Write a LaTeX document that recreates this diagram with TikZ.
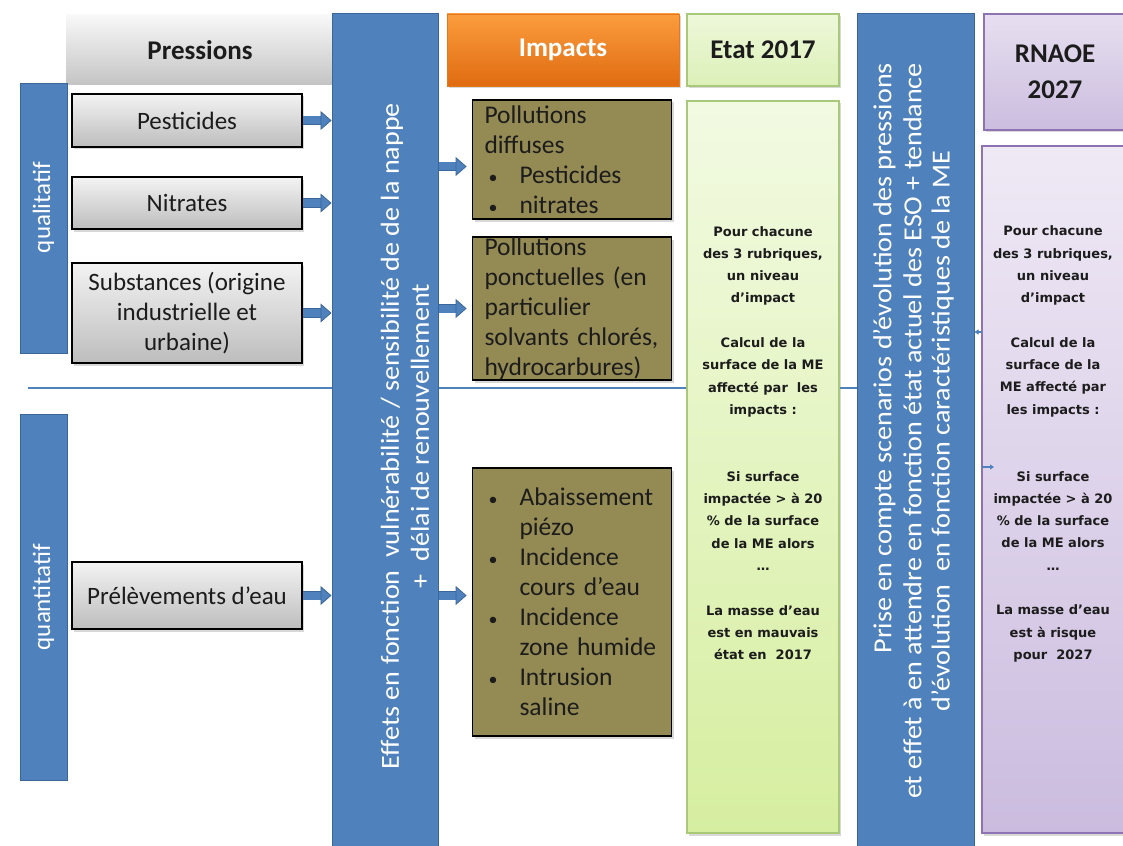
\documentclass[tikz,border=0pt]{standalone}
\usepackage{fontspec}
\setmainfont{Carlito}
\newfontfamily\notefont{DejaVu Sans}
\newfontfamily\bandfont[FakeStretch=1.08]{Carlito}
\usetikzlibrary{arrows.meta,shadows}

\definecolor{bandblue}{HTML}{4F81BD}
\definecolor{bandedge}{HTML}{3B6698}
\definecolor{impfill}{HTML}{948A54}
\definecolor{greytop}{HTML}{F3F3F3}
\definecolor{greybot}{HTML}{BDBDBD}
\definecolor{headtop}{HTML}{F8F8F8}
\definecolor{headbot}{HTML}{C4C4C4}
\definecolor{orangetop}{HTML}{FB9D3E}
\definecolor{orangebot}{HTML}{E06B10}
\definecolor{orangeedge}{HTML}{E3791F}
\definecolor{greentop}{HTML}{F2FAE2}
\definecolor{greenbot}{HTML}{D6EEA0}
\definecolor{greenhtop}{HTML}{EEF8DA}
\definecolor{greenhbot}{HTML}{DCF0B8}
\definecolor{greenedge}{HTML}{A8C87A}
\definecolor{purpletop}{HTML}{EFE9F5}
\definecolor{purplebot}{HTML}{CBBCDF}
\definecolor{purplehtop}{HTML}{E7DFF0}
\definecolor{purplehbot}{HTML}{CBBDDF}
\definecolor{purpleedge}{HTML}{8E73B2}
\definecolor{inkdark}{HTML}{1C1C1C}

% bullet items inside the impact boxes
\newcommand\bitem[1]{\makebox[35pt][l]{\hspace{4pt}{\fontsize{18}{18}\selectfont\textbullet}}#1}
\newcommand\bcont[1]{\hspace*{35pt}#1}

\tikzset{
  soft shadow/.style={drop shadow={opacity=0.3, shadow xshift=2pt, shadow yshift=-2.5pt}},
  band/.style={draw=bandedge, line width=1pt, fill=bandblue, inner sep=0pt},
  bandtext/.style={text=white, font=\bandfont\fontsize{26}{30}\selectfont, align=center, inner sep=0pt},
  headgrey/.style={top color=headtop, bottom color=headbot, text=inkdark,
    font=\fontsize{27}{32}\selectfont\bfseries},
  greybox/.style={draw=black, line width=1.6pt, top color=greytop, bottom color=greybot,
    soft shadow, inner sep=2pt, align=center, text=inkdark, font=\fontsize{25}{30}\selectfont},
  impact/.style={draw=black, line width=1.8pt, fill=impfill, soft shadow, text width=175pt,
    inner xsep=12pt, inner ysep=0pt, align=left, text=inkdark, font=\fontsize{25.5}{30}\selectfont},
  headorange/.style={draw=orangeedge, line width=0.8pt, top color=orangetop, bottom color=orangebot,
    soft shadow, text=white, font=\fontsize{27}{32}\selectfont\bfseries},
  headgreen/.style={draw=greenedge, line width=1.5pt, top color=greenhtop, bottom color=greenhbot,
    soft shadow, text=inkdark, font=\fontsize{27}{32}\selectfont\bfseries},
  bodygreen/.style={draw=greenedge, line width=1.5pt, top color=greentop, bottom color=greenbot, soft shadow},
  headpurple/.style={draw=purpleedge, line width=1.5pt, top color=purplehtop, bottom color=purplehbot,
    soft shadow, text=inkdark, align=center, font=\fontsize{27}{36}\selectfont\bfseries},
  bodypurple/.style={draw=purpleedge, line width=1.5pt, top color=purpletop, bottom color=purplebot, soft shadow},
  note/.style={align=center, text=inkdark, font=\notefont\bfseries\fontsize{13}{22.3}\selectfont},
  sepline/.style={draw=bandblue, line width=1.6pt},
  blockarr/.style={draw=bandblue, line width=8pt,
    -{Triangle[length=11pt,width=19pt,line width=0.8pt,color=bandedge,fill=bandblue]},
    preaction={draw=bandedge, line width=9.6pt, -, shorten >=10pt}},
  smallarr/.style={draw=bandblue, line width=1.3pt, -{Triangle[length=4pt,width=5pt]}}
}

\begin{document}
\begin{tikzpicture}[x=1pt,y=-1pt]
\useasboundingbox (0,0) rectangle (1123,845);
\clip (0,0) rectangle (1123,845);
\fill[white] (0,0) rectangle (1123,845);

% right-hand blue band (scenarios) and the row separator running behind the columns
\node[band, minimum width=117pt, minimum height=840pt] (col2) at (915.5,434) {};
\coordinate (sepstart) at (28,388);
\draw[sepline] (sepstart) -- (sepstart -| col2.west);

% pressures column
\node[headgrey, minimum width=268pt, minimum height=70pt] (hpress) at (200,50) {Pressions};
\node[band, rotate=90, minimum width=269pt, minimum height=47pt, text=white,
      font=\fontsize{25}{30}\selectfont] (qual) at (43.5,218.5) {\hspace*{22pt}qualitatif};
\node[band, rotate=90, minimum width=366pt, minimum height=47pt, text=white,
      font=\fontsize{25}{30}\selectfont] (quant) at (43.5,597) {quantitatif};

\node[greybox, minimum width=230pt, minimum height=53pt] (pest) at (187,120.5) {Pesticides};
\node[greybox, minimum width=230pt, minimum height=52pt] (nitr) at (187,203) {Nitrates};
\node[greybox, minimum width=230pt, minimum height=100pt] (subs) at (187,313)
  {Substances (origine\\industrielle et\\urbaine)};
\node[greybox, minimum width=230pt, minimum height=67pt] (prel) at (187,595.5) {Prélèvements d’eau};

% effects band
\node[band, minimum width=106pt, minimum height=840pt] (col1) at (385,434) {};
\node[bandtext, rotate=90] (col1txt) at (405,436)
  {Effets en fonction\ \ vulnérabilité / sensibilité de de la nappe\\+\ \ délai de renouvellement};

% impacts column
\node[headorange, minimum width=232pt, minimum height=72pt] (himp) at (563,50) {Impacts};
\node[impact, minimum width=199pt, minimum height=119pt] (imp1) at (572,159.5)
  {Pollutions\\diffuses\\\bitem{Pesticides}\\\bitem{nitrates}};
\node[impact, minimum width=199pt, minimum height=143pt] (imp2) at (572,308.5)
  {Pollutions\\ponctuelles~(en\\particulier\\solvants~chlorés,\\hydrocarbures)};
\node[impact, minimum width=199pt, minimum height=268pt] (imp3) at (572,602)
  {\bitem{Abaissement}\\\bcont{piézo}\\\bitem{Incidence}\\\bcont{cours~d’eau}\\\bitem{Incidence}\\\bcont{zone~humide}\\\bitem{Intrusion}\\\bcont{saline}};

% state 2017 column
\node[headgreen, minimum width=152pt, minimum height=72pt] (heta) at (763,50) {Etat 2017};
\node[bodygreen, minimum width=152pt, minimum height=732pt] (beta) at (763,467) {};
\node[note] (teta) at (763,443)
  {Pour chacune\\des 3 rubriques,\\un niveau\\d’impact\\[22.3pt]Calcul de la\\surface de la ME\\affecté par\ \ les\\impacts :\\[44.6pt]Si surface\\impactée > à 20\\\% de la surface\\de la ME alors\\…\\[22.3pt]La masse d’eau\\est en mauvais\\état en\ \ 2017};

% scenario band text
\node[bandtext, rotate=90] (col2txt) at (912,431)
  {\begin{tabular}{@{}r@{}}Prise en compte scenarios d’évolution des pressions\\
   et effet à en attendre en fonction état actuel des ESO + tendance\end{tabular}\\
   d’évolution\ \ en fonction caractéristiques de la ME};

% RNAOE 2027 column
\node[headpurple, minimum width=142pt, minimum height=116pt] (hrna) at (1055,72) {RNAOE\\2027};
\node[bodypurple, minimum width=144pt, minimum height=687pt] (brna) at (1054,489.5) {};
\node[note] (trna) at (1053,444)
  {Pour chacune\\des 3 rubriques,\\un niveau\\d’impact\\[22.3pt]Calcul de la\\surface de la\\ME affecté par\\les impacts :\\[44.6pt]Si surface\\impactée > à 20\\\% de la surface\\de la ME alors\\…\\[22.3pt]La masse d’eau\\est à risque\\pour\ \ 2027};

% pressures feed the effects band
\draw[blockarr] (pest.east) -- (pest.east -| col1.west);
\draw[blockarr] (nitr.east) -- (nitr.east -| col1.west);
\draw[blockarr] (subs.east) -- (subs.east -| col1.west);
\draw[blockarr] (prel.east) -- (prel.east -| col1.west);

% effects band feeds the impacts
\coordinate (in1) at ([yshift=-7pt]imp1.west);
\draw[blockarr, shorten >=5pt] (in1 -| col1.east) -- (in1);
\draw[blockarr, shorten >=5pt] (imp2.west -| col1.east) -- (imp2.west);
\draw[blockarr, shorten >=5pt] (prel.east -| col1.east) -- (prel.east -| imp3.west);

% small connectors at the RNAOE column
\coordinate (rn1) at (982,332);
\draw[smallarr] (rn1) -- (rn1 -| col2.east);
\coordinate (rn2) at (982,467);
\coordinate (rn2end) at (994,467);
\draw[smallarr] (rn2) -- (rn2end);
\end{tikzpicture}
\end{document}
